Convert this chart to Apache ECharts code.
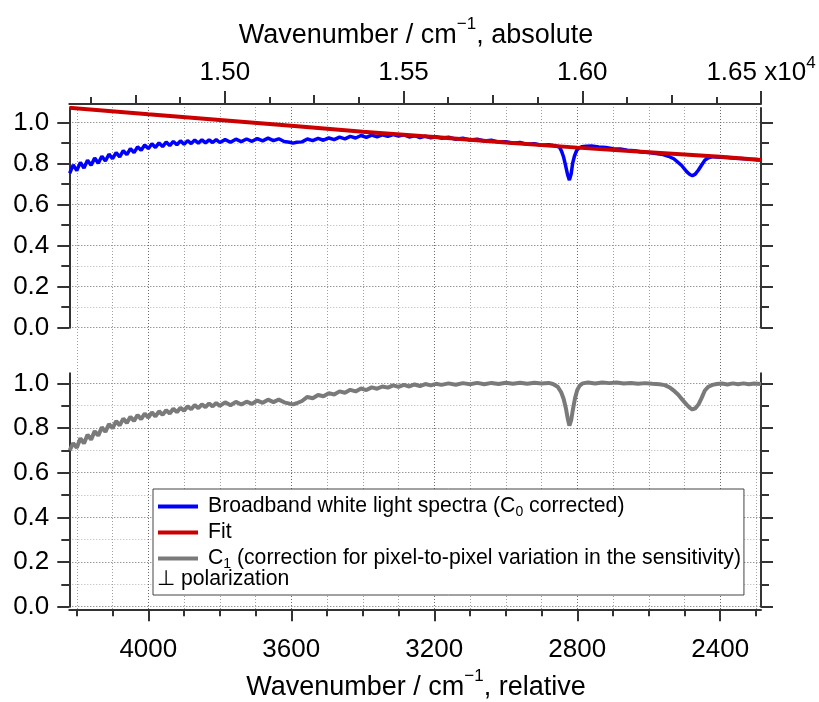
<!DOCTYPE html>
<html><head><meta charset="utf-8">
<script src="https://cdn.jsdelivr.net/npm/echarts@6/dist/echarts.min.js"></script>
<style>html,body{margin:0;padding:0;background:#fff}#c{width:819px;height:702px}</style>
</head><body><div id="c"></div>
<script>
// ---- data (relative wavenumber / cm^-1, value) ----
const broadbandSpectrum = [[4220,.752],[4210,.793],[4200,.765],[4190,.805],[4180,.778],[4170,.816],[4160,.791],[4150,.826],[4140,.801],[4130,.835],[4120,.812],[4110,.845],[4100,.823],[4090,.853],[4080,.832],[4070,.862],[4060,.843],[4050,.872],[4040,.853],[4030,.881],[4020,.864],[4010,.890],[4000,.872],[3990,.896],[3980,.878],[3970,.900],[3960,.882],[3950,.904],[3940,.887],[3930,.907],[3920,.891],[3910,.910],[3900,.893],[3890,.911],[3880,.897],[3870,.914],[3860,.899],[3850,.915],[3840,.900],[3830,.915],[3820,.902],[3810,.916],[3800,.902],
[3785,.916],[3770,.903],[3755,.918],[3740,.906],[3725,.919],[3710,.908],[3695,.921],[3680,.910],[3665,.923],[3650,.911],[3635,.920],[3620,.907],[3605,.903],[3595,.899],[3585,.903],[3570,.905],[3555,.919],[3540,.911],[3525,.922],[3510,.913],[3495,.924],[3480,.916],[3465,.928],[3450,.920],[3435,.932],[3420,.924],[3405,.936],[3390,.927],[3375,.938],[3360,.930],[3345,.939],[3330,.932],[3315,.941],[3300,.933],[3285,.939],[3270,.929],[3255,.935],[3240,.926],[3225,.933],[3210,.925],[3195,.930],[3180,.923],
[3160,.928],[3140,.918],[3120,.923],[3100,.914],[3080,.918],[3060,.909],[3040,.913],[3020,.904],[3000,.906],[2980,.898],[2960,.902],[2940,.893],[2920,.896],[2900,.889],[2880,.891],[2870,.889],[2860,.886],[2850,.880],[2844,.860],[2838,.830],[2832,.785],[2827,.745],[2822,.719],[2817,.750],[2813,.800],[2808,.835],[2802,.862],[2795,.876],[2788,.881],[2775,.884],[2760,.885],[2740,.880],[2720,.878],[2700,.872],[2680,.870],[2660,.864],[2640,.862],[2620,.856],[2600,.853],[2580,.848],[2560,.843],[2545,.835],[2530,.823],[2520,.808],[2508,.790],[2494,.760],[2485,.746],[2478,.740],[2470,.748],[2461,.768],[2452,.792],[2443,.816],[2433,.828],[2420,.833],[2400,.830],[2380,.829],[2360,.825],[2340,.824],[2320,.821],[2300,.819],[2286,.817]];

const fitCurve = [[4221,1.071],[4000,1.039],[3800,1.011],[3600,0.983],[3400,0.954],[3200,0.929],[3000,0.902],[2800,0.877],[2600,0.855],[2400,0.832],[2286,0.817]];

const c1Correction = [[4220,.700],[4210,.732],[4200,.712],[4190,.754],[4180,.731],[4170,.770],[4160,.748],[4150,.786],[4140,.766],[4130,.803],[4120,.783],[4110,.818],[4100,.799],[4090,.831],[4080,.812],[4070,.842],[4060,.823],[4050,.850],[4040,.832],[4030,.858],[4020,.840],[4010,.864],[4000,.847],[3990,.870],[3980,.852],[3970,.875],[3960,.859],[3950,.880],[3940,.865],[3930,.886],[3920,.871],[3910,.891],[3900,.878],[3890,.897],[3880,.884],[3870,.903],[3860,.889],[3850,.906],[3840,.894],[3830,.910],[3820,.897],[3810,.912],[3800,.899],
[3785,.915],[3770,.902],[3755,.917],[3740,.905],[3725,.918],[3710,.908],[3695,.923],[3680,.913],[3665,.927],[3650,.916],[3635,.927],[3620,.915],[3605,.909],[3595,.906],[3585,.911],[3570,.921],[3555,.939],[3540,.933],[3525,.948],[3510,.942],[3495,.956],[3480,.950],[3465,.964],[3450,.958],[3435,.971],[3420,.964],[3405,.977],[3390,.970],[3375,.982],[3360,.976],[3345,.986],[3330,.981],[3315,.991],[3300,.984],[3285,.993],[3270,.986],[3255,.995],[3240,.988],[3225,.997],[3210,.991],[3195,.998],[3180,.993],
[3160,1.000],[3140,.994],[3120,1.001],[3100,.996],[3080,1.002],[3060,.996],[3040,1.002],[3020,.997],[3000,1.003],[2980,.998],[2960,1.003],[2940,.998],[2920,1.003],[2900,.999],[2880,1.002],[2868,.997],[2855,.985],[2845,.960],[2838,.930],[2832,.890],[2827,.845],[2822,.811],[2817,.835],[2812,.885],[2806,.935],[2800,.970],[2793,.990],[2785,1.000],[2770,1.004],[2750,.999],[2730,1.004],[2710,1.001],[2690,1.004],[2670,.999],[2650,1.002],[2630,.998],[2610,1.001],[2590,.998],[2570,.996],[2555,.992],[2540,.980],[2528,.965],[2518,.950],[2505,.925],[2494,.905],[2485,.890],[2478,.883],[2470,.888],[2461,.905],[2452,.935],[2443,.968],[2433,.985],[2422,.993],[2410,.997],[2395,.999],[2380,.995],[2365,1.000],[2350,.996],[2335,1.000],[2320,.996],[2305,.999],[2286,.997]];

// ---- axis ranges & ticks ----
const relRange = [2286, 4221];
const laserOffset = 18786;             // absolute = offset - relative
const absRange = [laserOffset - relRange[1], laserOffset - relRange[0]];
const relMajorTicks = [4000, 3600, 3200, 2800, 2400];
const relMinorTicks = [4200,4100,3900,3800,3700,3500,3400,3300,3100,3000,2900,2700,2600,2500,2300];
const absMajorTicks = [15000, 15500, 16000, 16500];
const absMidTicks = [14750, 15250, 15750, 16250];
const absMinorTicks = [14625, 14875, 15125, 15375, 15625, 15875, 16125, 16375];
const yMajorTicks = [0, 0.2, 0.4, 0.6, 0.8, 1.0];
const yMinorTicks = [0.1, 0.3, 0.5, 0.7, 0.9];
const topPanelMax = 1.07, bottomPanelMax = 1.045;
const legendNames = ['Broadband white light spectra (C0 corrected)', 'Fit', 'C1 (correction for pixel-to-pixel variation in the sensitivity)'];
const bottomTitle = 'Wavenumber / cm{sup|−1}, relative';
const topTitle = 'Wavenumber / cm{sup|−1}, absolute';

const FONT = '"Liberation Sans", Arial, sans-serif';
const AX = '#333';
const L = 69.3, W = 691.7;
const frame = {left: L, top: 104, width: W, height: 505.3};
const topP = {left: L, top: 108, width: W, height: 219.7};
const botP = {left: L, top: 373.3, width: W, height: 233.4};

function xa(o) {
  return Object.assign({type: 'value', min: relRange[0], max: relRange[1], inverse: true,
    axisLine: {show: false, onZero: false}, axisTick: {show: false}, axisLabel: {show: false},
    splitLine: {show: false}}, o);
}
function xabs(o) {
  return Object.assign({type: 'value', min: absRange[0], max: absRange[1], position: 'top',
    axisLine: {show: false, onZero: false}, axisTick: {show: false}, axisLabel: {show: false},
    splitLine: {show: false}}, o);
}
function ya(o) {
  return Object.assign({type: 'value', min: 0, max: 1,
    axisLine: {show: false, onZero: false}, axisTick: {show: false}, axisLabel: {show: false},
    splitLine: {show: false}}, o);
}
const tickStyle = {color: AX, width: 2};
const lineStyle = {color: AX, width: 2};
const supRich = {sup: {fontSize: 17, fontFamily: FONT, verticalAlign: 'top', lineHeight: 17, fill: '#000'}};

const chart = echarts.init(document.getElementById('c'), null, {renderer: 'canvas'});
chart.setOption({
  animation: false,
  backgroundColor: '#fff',
  grid: [frame, frame, frame, topP, topP, botP, botP].map(g => Object.assign({containLabel: false, outerBoundsMode: 'none'}, g)),
  xAxis: [
    xa({gridIndex: 0, position: 'bottom',
      axisLine: {show: true, onZero: false, lineStyle},
      axisTick: {show: true, customValues: relMajorTicks, length: 12, lineStyle: tickStyle},
      axisLabel: {show: true, customValues: relMajorTicks, formatter: v => String(v), fontSize: 26, fontFamily: FONT, color: '#000', margin: 28},
      splitLine: {show: true, lineStyle: {color: '#6a6a6a', width: 1, type: [1, 2]}}}),
    xabs({gridIndex: 0, position: 'top',
      axisLine: {show: true, onZero: false, lineStyle},
      axisTick: {show: true, customValues: absMajorTicks, length: 13, lineStyle: tickStyle},
      axisLabel: {show: true, customValues: absMajorTicks, fontSize: 26, fontFamily: FONT, color: '#000', margin: 13,
        lineHeight: 36,
        formatter: v => v === 16500 ? '1.65 x10{sup|4}' : (v / 10000).toFixed(2),
        rich: supRich}}),
    xa({gridIndex: 1, position: 'bottom',
      axisTick: {show: true, customValues: relMinorTicks, length: 7, lineStyle: tickStyle},
      splitLine: {show: true, lineStyle: {color: '#a0a0a0', width: 1, type: [1, 2]}}}),
    xabs({gridIndex: 1, position: 'top',
      axisTick: {show: true, customValues: absMidTicks, length: 9, lineStyle: tickStyle}}),
    xabs({gridIndex: 2, position: 'top',
      axisTick: {show: true, customValues: absMinorTicks, length: 7, lineStyle: tickStyle}}),
    xa({gridIndex: 3, show: false}),
    xa({gridIndex: 4, show: false}),
    xa({gridIndex: 5, show: false}),
    xa({gridIndex: 6, show: false})
  ],
  yAxis: [
    ya({gridIndex: 0, show: false}),
    ya({gridIndex: 1, show: false}),
    ya({gridIndex: 2, show: false}),
    ya({gridIndex: 3, position: 'left', max: topPanelMax,
      axisLine: {show: true, onZero: false, lineStyle},
      axisTick: {show: true, customValues: yMajorTicks, length: 12, lineStyle: tickStyle},
      axisLabel: {show: true, customValues: yMajorTicks, formatter: v => v.toFixed(1), fontSize: 26, fontFamily: FONT, color: '#000', margin: 20},
      splitLine: {show: true, lineStyle: {color: '#6a6a6a', width: 1, type: [1, 2]}}}),
    ya({gridIndex: 3, position: 'right', max: topPanelMax,
      axisLine: {show: true, onZero: false, lineStyle},
      axisTick: {show: true, customValues: yMajorTicks, length: 12, lineStyle: tickStyle}}),
    ya({gridIndex: 4, position: 'left', max: topPanelMax,
      axisTick: {show: true, customValues: yMinorTicks, length: 8, lineStyle: tickStyle},
      splitLine: {show: true, lineStyle: {color: '#b4b4b4', width: 1, type: [1, 2]}}}),
    ya({gridIndex: 4, position: 'right', max: topPanelMax,
      axisTick: {show: true, customValues: yMinorTicks, length: 8, lineStyle: tickStyle}}),
    ya({gridIndex: 5, position: 'left', max: bottomPanelMax,
      axisLine: {show: true, onZero: false, lineStyle},
      axisTick: {show: true, customValues: yMajorTicks, length: 12, lineStyle: tickStyle},
      axisLabel: {show: true, customValues: yMajorTicks, formatter: v => v.toFixed(1), fontSize: 26, fontFamily: FONT, color: '#000', margin: 20},
      splitLine: {show: true, lineStyle: {color: '#6a6a6a', width: 1, type: [1, 2]}}}),
    ya({gridIndex: 5, position: 'right', max: bottomPanelMax,
      axisLine: {show: true, onZero: false, lineStyle},
      axisTick: {show: true, customValues: yMajorTicks, length: 12, lineStyle: tickStyle}}),
    ya({gridIndex: 6, position: 'left', max: bottomPanelMax,
      axisTick: {show: true, customValues: yMinorTicks, length: 8, lineStyle: tickStyle},
      splitLine: {show: true, lineStyle: {color: '#b4b4b4', width: 1, type: [1, 2]}}}),
    ya({gridIndex: 6, position: 'right', max: bottomPanelMax,
      axisTick: {show: true, customValues: yMinorTicks, length: 8, lineStyle: tickStyle}})
  ],
  legend: {
    orient: 'vertical', left: 153, top: 489, padding: [5, 3, 24, 5], itemGap: 1,
    itemWidth: 40, itemHeight: 4, icon: 'rect',
    backgroundColor: '#fff', borderColor: '#444', borderWidth: 1, z: 20,
    data: legendNames,
    formatter: n => n.replace('C0', 'C{sub|0}').replace('C1 (', 'C{sub|1} ('),
    textStyle: {fontSize: 21.2, fontFamily: FONT, color: '#000', lineHeight: 25, padding: [0, 0, 0, 5],
      rich: {sub: {fontSize: 14, fontFamily: FONT, verticalAlign: 'bottom', lineHeight: 14}}}
  },
  graphic: [
    {type: 'text', left: 157, top: 569, z: 100,
      style: {text: '⊥ polarization', font: '21.2px ' + FONT, fill: '#000'}},
    {type: 'text', x: 416, y: 688, z: 100,
      style: {text: bottomTitle, fontSize: 27, fontFamily: FONT, fill: '#000', lineHeight: 40,
        align: 'center', verticalAlign: 'middle', rich: supRich}},
    {type: 'text', x: 416, y: 36, z: 100,
      style: {text: topTitle, fontSize: 27, fontFamily: FONT, fill: '#000', lineHeight: 40,
        align: 'center', verticalAlign: 'middle', rich: supRich}}
  ],
  series: [
    {name: legendNames[0], type: 'line', xAxisIndex: 5, yAxisIndex: 3, data: broadbandSpectrum,
      showSymbol: false, symbol: 'none', color: '#0000ff', lineStyle: {color: '#0000ff', width: 3.5}, z: 2},
    {name: legendNames[1], type: 'line', xAxisIndex: 5, yAxisIndex: 3, data: fitCurve,
      showSymbol: false, symbol: 'none', color: '#cc0000', lineStyle: {color: '#cc0000', width: 4}, z: 3},
    {name: legendNames[2], type: 'line', xAxisIndex: 7, yAxisIndex: 7, data: c1Correction,
      showSymbol: false, symbol: 'none', color: '#7a7a7a', lineStyle: {color: '#7a7a7a', width: 4}, z: 2}
  ]
});
</script></body></html>
